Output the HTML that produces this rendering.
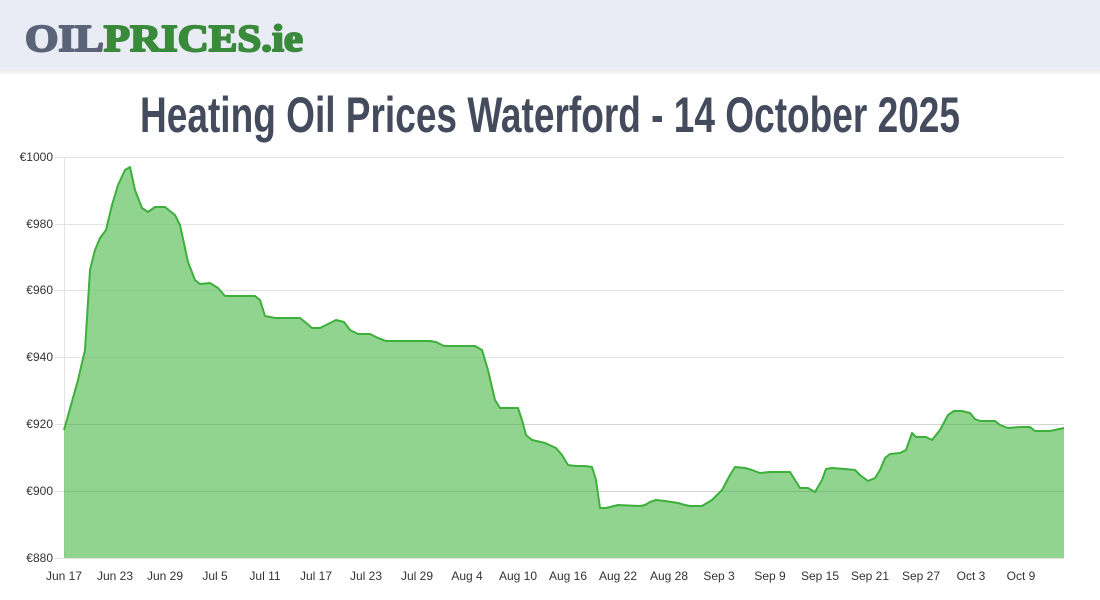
<!DOCTYPE html>
<html><head><meta charset="utf-8"><style>
html,body{margin:0;padding:0;width:1100px;height:600px;overflow:hidden;background:#fff}
</style></head><body>
<svg width="1100" height="600" xmlns="http://www.w3.org/2000/svg" style="display:block">
<defs><linearGradient id="sh" x1="0" y1="0" x2="0" y2="1"><stop offset="0" stop-color="#000" stop-opacity="0.08"/><stop offset="1" stop-color="#000" stop-opacity="0"/></linearGradient></defs>
<rect x="0" y="0" width="1100" height="70" fill="#e9ecf4"/>
<rect x="0" y="70" width="1100" height="6" fill="url(#sh)"/>
<text x="25" y="51" font-family="Liberation Serif, serif" font-weight="bold" font-size="38" textLength="278" lengthAdjust="spacingAndGlyphs" stroke-width="2" stroke-linejoin="round"><tspan fill="#5a6378" stroke="#5a6378">OIL</tspan><tspan fill="#3a8a3c" stroke="#3a8a3c">PRICES.ie</tspan></text>
<text x="550" y="132" text-anchor="middle" font-family="Liberation Sans Narrow, Liberation Sans, sans-serif" font-weight="bold" font-size="50" fill="#434b5c" textLength="820" lengthAdjust="spacingAndGlyphs">Heating Oil Prices Waterford - 14 October 2025</text>
<g stroke="#e3e3e3" stroke-width="1">
<line x1="55" y1="157.5" x2="1064" y2="157.5"/><line x1="55" y1="224.5" x2="1064" y2="224.5"/><line x1="55" y1="290.5" x2="1064" y2="290.5"/><line x1="55" y1="357.5" x2="1064" y2="357.5"/><line x1="55" y1="424.5" x2="1064" y2="424.5"/><line x1="55" y1="491.5" x2="1064" y2="491.5"/><line x1="55" y1="558.5" x2="1064" y2="558.5"/>
<line x1="64.5" y1="157" x2="64.5" y2="558"/>
</g>
<g font-family="Liberation Sans, sans-serif" font-size="12" fill="#333" text-anchor="end">
<text x="53" y="161">€1000</text><text x="53" y="228">€980</text><text x="53" y="294">€960</text><text x="53" y="361">€940</text><text x="53" y="428">€920</text><text x="53" y="495">€900</text><text x="53" y="562">€880</text>
</g>
<g font-family="Liberation Sans, sans-serif" font-size="12" fill="#333" text-anchor="middle">
<text x="64" y="580">Jun 17</text><text x="115" y="580">Jun 23</text><text x="165" y="580">Jun 29</text><text x="215" y="580">Jul 5</text><text x="265" y="580">Jul 11</text><text x="316" y="580">Jul 17</text><text x="366" y="580">Jul 23</text><text x="417" y="580">Jul 29</text><text x="467" y="580">Aug 4</text><text x="518" y="580">Aug 10</text><text x="568" y="580">Aug 16</text><text x="618" y="580">Aug 22</text><text x="669" y="580">Aug 28</text><text x="719" y="580">Sep 3</text><text x="770" y="580">Sep 9</text><text x="820" y="580">Sep 15</text><text x="870" y="580">Sep 21</text><text x="921" y="580">Sep 27</text><text x="971" y="580">Oct 3</text><text x="1021" y="580">Oct 9</text>
</g>
<polygon fill="#6cc66b" fill-opacity="0.75" points="64,558 64,430 78,380 85,350 90,270 95,250 100,238 106,230 112,205 118,185 125,170 130,167 135,190 142,208 148,212 155,207 165,207 175,215 180,225 188,262 195,280 200,284 210,283 218,288 225,296 240,296 255,296 260,300 265,316 275,318 290,318 300,318 305,322 312,328 320,328 328,324 336,320 344,322 350,330 358,334 370,334 378,338 386,341 400,341 430,341 436,342 444,346 475,346 482,350 488,370 495,400 500,408 510,408 518,408 522,420 526,435 532,440 545,443 556,448 562,455 568,465 575,466 585,466 592,467 596,480 600,508 606,508 618,505 640,506 645,505 650,502 656,500 665,501 678,503 685,505 690,506 702,506 712,500 722,490 730,475 735,467 745,468 752,470 760,473 770,472 790,472 795,480 800,488 808,488 815,492 822,480 826,469 832,468 845,469 855,470 860,475 868,481 875,478 880,470 885,458 890,454 900,453 906,450 912,433 916,437 926,437 932,440 940,430 948,415 954,411 962,411 970,413 975,419 980,421 988,421 995,421 1000,425 1008,428 1020,427 1030,427 1035,431 1050,431 1064,428 1064,558"/>
<line x1="64" y1="491.5" x2="1064" y2="491.5" stroke="#000" stroke-opacity="0.08"/>
<line x1="64" y1="424.5" x2="1064" y2="424.5" stroke="#000" stroke-opacity="0.06"/>
<polyline fill="none" stroke="#3cb03a" stroke-width="2" stroke-linejoin="round" points="64,430 78,380 85,350 90,270 95,250 100,238 106,230 112,205 118,185 125,170 130,167 135,190 142,208 148,212 155,207 165,207 175,215 180,225 188,262 195,280 200,284 210,283 218,288 225,296 240,296 255,296 260,300 265,316 275,318 290,318 300,318 305,322 312,328 320,328 328,324 336,320 344,322 350,330 358,334 370,334 378,338 386,341 400,341 430,341 436,342 444,346 475,346 482,350 488,370 495,400 500,408 510,408 518,408 522,420 526,435 532,440 545,443 556,448 562,455 568,465 575,466 585,466 592,467 596,480 600,508 606,508 618,505 640,506 645,505 650,502 656,500 665,501 678,503 685,505 690,506 702,506 712,500 722,490 730,475 735,467 745,468 752,470 760,473 770,472 790,472 795,480 800,488 808,488 815,492 822,480 826,469 832,468 845,469 855,470 860,475 868,481 875,478 880,470 885,458 890,454 900,453 906,450 912,433 916,437 926,437 932,440 940,430 948,415 954,411 962,411 970,413 975,419 980,421 988,421 995,421 1000,425 1008,428 1020,427 1030,427 1035,431 1050,431 1064,428"/>
</svg>
</body></html>
